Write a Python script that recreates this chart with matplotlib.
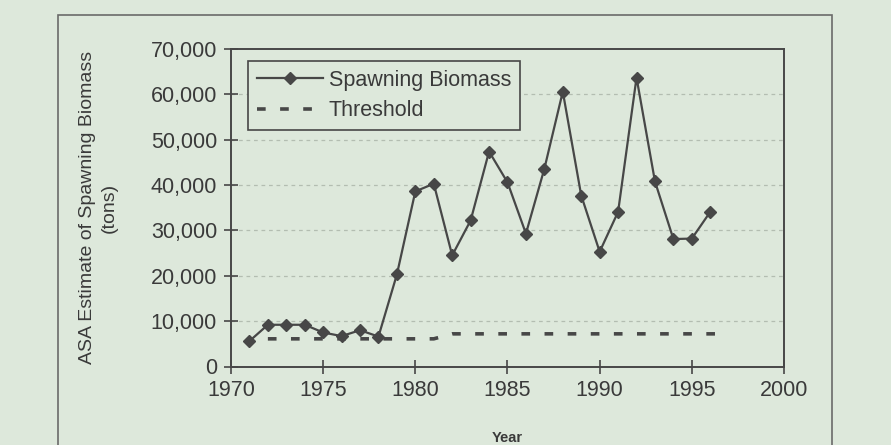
import matplotlib
matplotlib.use("Agg")
import matplotlib.pyplot as plt
from matplotlib.patches import Rectangle
from matplotlib.ticker import FuncFormatter

years = [1971, 1972, 1973, 1974, 1975, 1976, 1977, 1978, 1979, 1980,
         1981, 1982, 1983, 1984, 1985, 1986, 1987, 1988, 1989, 1990,
         1991, 1992, 1993, 1994, 1995, 1996]
biomass = [5600, 9200, 9200, 9200, 7500, 6700, 8000, 6600, 20300, 38600,
           40300, 24500, 32200, 47400, 40600, 29300, 43600, 60600, 37700, 25300,
           34100, 63700, 40800, 28100, 28200, 34100]

thr_years = [1972, 1973, 1974, 1975, 1976, 1977, 1978, 1979, 1980, 1981,
             1982, 1983, 1984, 1985, 1986, 1987, 1988, 1989, 1990, 1991,
             1992, 1993, 1994, 1995, 1996, 1997]
threshold = [6100, 6100, 6100, 6100, 6100, 6100, 6100, 6100, 6100, 6100,
             7200, 7200, 7200, 7200, 7200, 7200, 7200, 7200, 7200, 7200,
             7200, 7200, 7200, 7200, 7200, 7200]

x_ticks = [1970, 1975, 1980, 1985, 1990, 1995, 2000]
y_ticks = [0, 10000, 20000, 30000, 40000, 50000, 60000, 70000]

bg = "#dde8db"
ink = "#474747"
txt = "#3a3a3a"

plt.rcParams['font.family'] = ['Liberation Sans', 'DejaVu Sans']

fig = plt.figure(figsize=(8.91, 4.45), dpi=100)
fig.patch.set_facecolor(bg)

# outer frame
fig.patches.append(Rectangle((58 / 891, -0.05), (832 - 58) / 891, 1 - 15 / 445 + 0.05,
                             transform=fig.transFigure, fill=False,
                             edgecolor="#6a6a6a", linewidth=1.2))

ax = fig.add_axes([231 / 891, 1 - 366.5 / 445, (784 - 231) / 891, (366.5 - 49) / 445])
ax.set_facecolor(bg)

ax.plot(years, biomass, color=ink, linewidth=1.6, marker='D', markersize=6.5,
        markerfacecolor=ink, markeredgecolor=ink, label='Spawning Biomass')
ax.plot(thr_years, threshold, color=ink, linewidth=2.6, dashes=(2.4, 4.0),
        label='Threshold')

ax.set_xlim(1970, 2000)
ax.set_ylim(0, 70000)
ax.set_xticks(x_ticks)
ax.set_yticks(y_ticks)
ax.yaxis.set_major_formatter(FuncFormatter(lambda v, p: f"{int(v):,}"))

for y in y_ticks[1:-1]:
    ax.axhline(y, color="#b3bdb1", linewidth=0.9, linestyle=(0, (3, 3)), zorder=0)

for s in ax.spines.values():
    s.set_color(ink)
    s.set_linewidth(1.4)

ax.tick_params(direction='inout', length=10, width=1.2, color=ink,
               labelsize=15.5, labelcolor=txt, pad=5)

ax.set_xlabel("Year", fontsize=10.5, fontweight='bold', color=txt, labelpad=21)
ax.set_ylabel("ASA Estimate of Spawning Biomass\n(tons)", fontsize=14,
              color=txt, labelpad=24, linespacing=1.35)

leg = ax.legend(loc='upper left', bbox_to_anchor=(17 / 553, 1 - 12 / 317.5),
                fontsize=15.5, frameon=True, fancybox=False, handlelength=3.1,
                borderpad=0.4, labelspacing=0.45, handletextpad=0.25,
                borderaxespad=0.0)
leg.get_frame().set_edgecolor(ink)
leg.get_frame().set_linewidth(1.2)
leg.get_frame().set_facecolor(bg)
leg.get_frame().set_alpha(1.0)
for t in leg.get_texts():
    t.set_color(txt)

fig.savefig("out.png", dpi=100, facecolor=bg)
